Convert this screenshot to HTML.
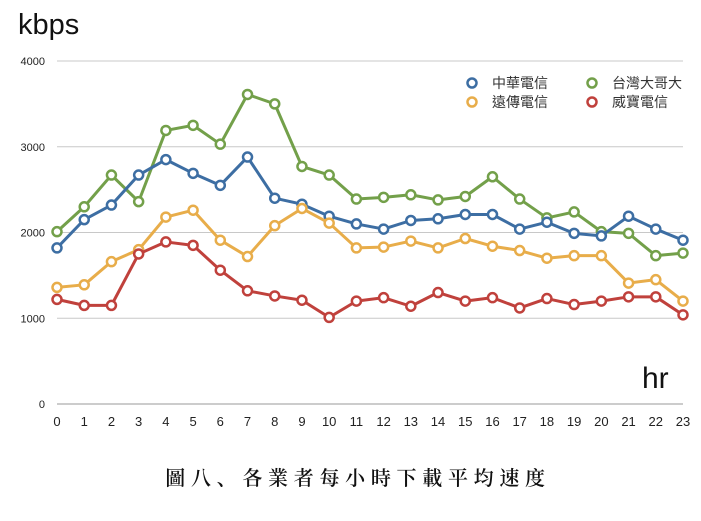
<!DOCTYPE html>
<html><head><meta charset="utf-8"><style>
body{margin:0;background:#fff;width:701px;height:516px;overflow:hidden}
svg text{font-family:"Liberation Sans","Noto Sans CJK TC",sans-serif}
</style></head><body>
<svg id="chart" width="701" height="516" viewBox="0 0 701 516">
<text x="18" y="34" font-size="29" fill="#111">kbps</text>
<text x="642" y="388" font-size="30" fill="#111">hr</text>
<g id="grid"></g><g id="series"></g>
<g font-size="14" fill="#333">
<circle cx="472" cy="83" r="4.5" fill="#fff" stroke="#3d6ea3" stroke-width="2.5"/>
<text x="492" y="88">中華電信</text>
<circle cx="592" cy="83" r="4.5" fill="#fff" stroke="#73a04a" stroke-width="2.5"/>
<text x="612" y="88">台灣大哥大</text>
<circle cx="472" cy="102" r="4.5" fill="#fff" stroke="#e8ad4a" stroke-width="2.5"/>
<text x="492" y="107">遠傳電信</text>
<circle cx="592" cy="102" r="4.5" fill="#fff" stroke="#c0413c" stroke-width="2.5"/>
<text x="612" y="107">威寶電信</text>
</g>
<text x="358" y="485" text-anchor="middle" font-size="20" font-weight="600" letter-spacing="5.7" style="font-family:'Liberation Serif','Noto Serif CJK SC',serif" fill="#111">圖八、各業者每小時下載平均速度</text>
</svg>
<script>
const hours=[0,1,2,3,4,5,6,7,8,9,10,11,12,13,14,15,16,17,18,19,20,21,22,23];
const yTicks=[0,1000,2000,3000,4000];
const cht=[1820,2150,2320,2670,2850,2690,2550,2880,2400,2330,2190,2100,2040,2140,2160,2210,2210,2040,2120,1990,1960,2190,2040,1910];
const twm=[2010,2300,2670,2360,3190,3250,3030,3610,3500,2770,2670,2390,2410,2440,2380,2420,2650,2390,2170,2240,2010,1990,1730,1760];
const fet=[1360,1390,1660,1800,2180,2260,1910,1720,2080,2280,2110,1820,1830,1900,1820,1930,1840,1790,1700,1730,1730,1410,1450,1200];
const vibo=[1220,1150,1150,1750,1890,1850,1560,1320,1260,1210,1010,1200,1240,1140,1300,1200,1240,1120,1230,1160,1200,1250,1250,1040];
const NS="http://www.w3.org/2000/svg";
const x=h=>57+h*(683-57)/23;
const y=v=>404-v*(404-61)/4000;
function mk(t,a,p){const e=document.createElementNS(NS,t);for(const k in a)e.setAttribute(k,a[k]);p.appendChild(e);return e;}
const grid=document.getElementById('grid');
yTicks.forEach(v=>{
 const l=mk('line',{x1:57,x2:683,y1:y(v),y2:y(v),stroke:v===0?'#999':'#c8c8c8','stroke-width':1},grid);
 
 
 const t=mk('text',{x:45,y:y(v)+4,'text-anchor':'end','font-size':11,fill:'#222'},grid);
 t.textContent=v;
 
 
});
hours.forEach(h=>{
 const t=mk('text',{x:x(h),y:426,'text-anchor':'middle','font-size':13,fill:'#222'},grid);
 t.textContent=h;
 
 
});
const sg=document.getElementById('series');
[[twm,'#73a04a','twm'],[cht,'#3d6ea3','cht'],[fet,'#e8ad4a','fet'],[vibo,'#c0413c','vibo']].forEach(([d,c,n])=>{
 const p=mk('polyline',{points:d.map((v,i)=>x(hours[i])+','+y(v)).join(' '),fill:'none',stroke:c,'stroke-width':3,'stroke-linejoin':'round'},sg);
 
 
 d.forEach((v,i)=>{
  const ci=mk('circle',{cx:x(hours[i]),cy:y(v),r:4.5,fill:'#fff',stroke:c,'stroke-width':2.5},sg);
  
  
 });
});
</script>
</body></html>
